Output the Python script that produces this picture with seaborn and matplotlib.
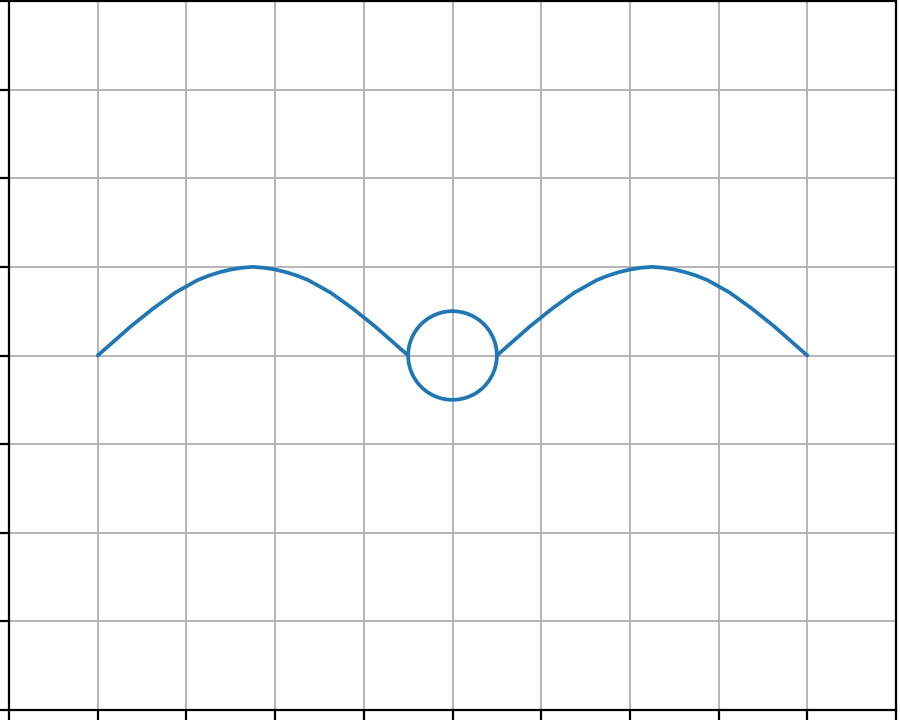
import numpy as np
import pandas as pd
import matplotlib.pyplot as plt
from matplotlib.patches import Circle
import seaborn as sns

# arch heights (eighth-unit steps)
left_x = [-4.0, -3.875, -3.75, -3.625, -3.5, -3.375, -3.25, -3.125,
          -3.0, -2.875, -2.75, -2.625, -2.5, -2.375, -2.25,
          -2.125, -2.0, -1.875, -1.75, -1.625, -1.5, -1.375, -1.25,
          -1.125, -1.0, -0.875, -0.75, -0.625, -0.5]
right_x = [0.5, 0.625, 0.75, 0.875, 1.0, 1.125, 1.25, 1.375,
           1.5, 1.625, 1.75, 1.875, 2.0, 2.125, 2.25,
           2.375, 2.5, 2.625, 2.75, 2.875, 3.0, 3.125, 3.25,
           3.375, 3.5, 3.625, 3.75, 3.875, 4.0]
arch_y = [0.0, 0.11, 0.22, 0.33, 0.43, 0.53, 0.62, 0.71,
          0.78, 0.85, 0.90, 0.94, 0.97, 0.99, 1.0,
          0.99, 0.97, 0.94, 0.90, 0.85, 0.78, 0.71, 0.62,
          0.53, 0.43, 0.33, 0.22, 0.11, 0.0]

circle_center = (0.0, 0.0)
circle_radius = 0.5

x_ticks = [-5, -4, -3, -2, -1, 0, 1, 2, 3, 4, 5]
y_ticks = [-4, -3, -2, -1, 0, 1, 2, 3, 4]

sns.set_theme(style="ticks", rc={"axes.grid": True, "grid.color": "#b0b0b0",
                                  "grid.linewidth": 1.3})

left = pd.DataFrame({"x": left_x, "y": arch_y})
right = pd.DataFrame({"x": right_x, "y": arch_y})

fig = plt.figure(figsize=(9, 7.2), dpi=100)
ax = fig.add_axes([9 / 900, 10 / 720, 887 / 900, 709 / 720])

sns.lineplot(data=left, x="x", y="y", color="#1f77b4", linewidth=2.7, sort=False, ax=ax)
sns.lineplot(data=right, x="x", y="y", color="#1f77b4", linewidth=2.7, sort=False, ax=ax)
ax.add_patch(Circle(circle_center, circle_radius, fill=False,
                    edgecolor="#1f77b4", linewidth=2.7))

ax.set_xlim(-5, 5)
ax.set_ylim(-4, 4)
ax.set_xticks(x_ticks)
ax.set_yticks(y_ticks)
ax.set_xlabel("")
ax.set_ylabel("")
ax.tick_params(direction="out", length=7, width=1.6, color="black",
               labelleft=False, labelbottom=False)
for s in ax.spines.values():
    s.set_color("black")
    s.set_linewidth(1.6)
    s.set_visible(True)

fig.savefig("out.png", dpi=100)
